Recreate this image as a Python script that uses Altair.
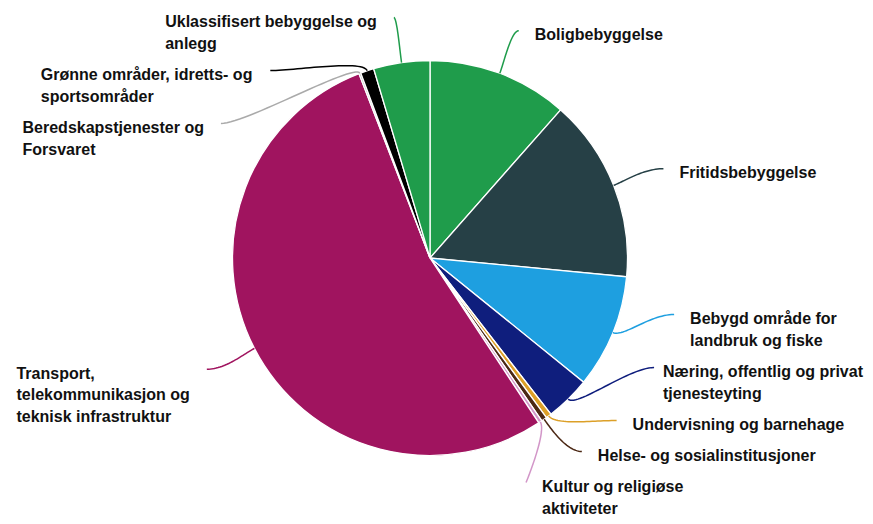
import math
import altair as alt
import pandas as pd

# ---------------- data ----------------
categories = [
    "Boligbebyggelse",
    "Fritidsbebyggelse",
    "Bebygd område for landbruk og fiske",
    "Næring, offentlig og privat tjenesteyting",
    "Undervisning og barnehage",
    "Helse- og sosialinstitusjoner",
    "Kultur og religiøse aktiviteter",
    "Transport, telekommunikasjon og teknisk infrastruktur",
    "Beredskapstjenester og Forsvaret",
    "Grønne områder, idretts- og sportsområder",
    "Uklassifisert bebyggelse og anlegg",
]
values = [11.5, 15.0, 9.3, 3.7, 0.45, 0.45, 0.3, 53.4, 0.15, 1.1, 4.6]
label_lines = [
    ["Boligbebyggelse"],
    ["Fritidsbebyggelse"],
    ["Bebygd område for", "landbruk og fiske"],
    ["Næring, offentlig og privat", "tjenesteyting"],
    ["Undervisning og barnehage"],
    ["Helse- og sosialinstitusjoner"],
    ["Kultur og religiøse", "aktiviteter"],
    ["Transport,", "telekommunikasjon og", "teknisk infrastruktur"],
    ["Beredskapstjenester og", "Forsvaret"],
    ["Grønne områder, idretts- og", "sportsområder"],
    ["Uklassifisert bebyggelse og", "anlegg"],
]
colors = [
    "#1f9c4b", "#264046", "#1e9fe0", "#0f1e7d", "#dca028", "#4b2814",
    "#d296c8", "#a0145f", "#aaaaaa", "#000000", "#1f9c4b",
]

# ---------------- layout parameters ----------------
W, H = 857, 508
CX, CY = 422, 250
R = 197.5
RA, RB = 251.0, 243.0      # label-anchor ellipse (horizontal, vertical semi-axes)
FONT = 16
LINE_H = 21.5
TOP_MIN = 6
LAST_LINE_MAX = 500.5

# Arial/Liberation Sans Bold advance widths (per 1000 em)
AW = {" ": 278, ",": 278, "-": 333, "a": 556, "b": 611, "c": 556, "d": 611, "e": 556,
      "f": 333, "g": 611, "h": 611, "i": 278, "j": 278, "k": 556, "l": 278, "m": 889,
      "n": 611, "o": 611, "p": 611, "q": 611, "r": 389, "s": 556, "t": 333, "u": 611,
      "v": 556, "w": 778, "x": 556, "y": 556, "z": 500, "å": 556, "ø": 611, "æ": 889,
      "U": 722, "G": 778, "B": 722, "F": 611, "T": 611, "H": 722, "K": 722, "N": 722}


def text_w(s):
    return sum(AW.get(ch, 600) for ch in s) * FONT / 1000.0


total = sum(values)
mids = []
acc = 0.0
for v in values:
    mids.append((acc + v / 2) / total * 2 * math.pi)
    acc += v

# initial label end positions and side
items = []
for i, a in enumerate(mids):
    side = 1 if math.sin(a) > 0 else -1
    items.append({"i": i, "a": a, "side": side, "y": CY - RB * math.cos(a),
                  "n": len(label_lines[i])})

# declutter each side vertically
for side in (1, -1):
    grp = sorted([it for it in items if it["side"] == side], key=lambda d: d["y"])
    for _ in range(3):
        prev = None
        for it in grp:
            lo = TOP_MIN if prev is None else prev["y"] + prev["n"] * 22 + 9
            it["y"] = max(it["y"], lo)
            prev = it
        nxt = None
        for it in reversed(grp):
            hi = LAST_LINE_MAX - 4.5 - (it["n"] - 1) * LINE_H
            if nxt is not None:
                hi = min(hi, nxt["y"] - it["n"] * 22 - 9)
            it["y"] = min(it["y"], hi)
            nxt = it

line_rows = []
text_rows = []
for it in items:
    i, a, side = it["i"], it["a"], it["side"]
    ey = it["y"]
    dy = (ey - CY) / RB
    ex = CX + side * RA * math.sqrt(max(1 - dy * dy, 0.0))
    p0 = (CX + R * math.sin(a), CY - R * math.cos(a))
    p1 = (p0[0] + 12 * math.sin(a), p0[1] - 12 * math.cos(a))
    l2 = min(25.0, max(0.0, side * (ex - p0[0])) * 0.4)
    p2 = (ex - side * l2, ey)
    p3 = (ex, ey)
    for k in range(31):
        t = k / 30
        mt = 1 - t
        bx = mt**3 * p0[0] + 3 * mt * mt * t * p1[0] + 3 * mt * t * t * p2[0] + t**3 * p3[0]
        by = mt**3 * p0[1] + 3 * mt * mt * t * p1[1] + 3 * mt * t * t * p2[1] + t**3 * p3[1]
        line_rows.append({"cat": categories[i], "t": k, "px": bx, "py": by})
    lines = label_lines[i]
    wmax = max(text_w(s) for s in lines)
    if side == 1:
        lx = min(ex + 16, W - 2 - wmax)
    else:
        lx = max(ex - 17 - wmax, 2)
    for j, s in enumerate(lines):
        text_rows.append({"txt": s, "tx": lx, "ty": ey + 4.5 + j * LINE_H})

df_slices = pd.DataFrame({"cat": categories, "value": values, "idx": list(range(len(values)))})
df_lines = pd.DataFrame(line_rows)
df_text = pd.DataFrame(text_rows)

color_scale = alt.Scale(domain=categories, range=colors)
xs = alt.Scale(domain=[0, W], nice=False, zero=False)
ys = alt.Scale(domain=[0, H], nice=False, zero=False, reverse=True)

pie = alt.Chart(df_slices).mark_arc(
    outerRadius=R, stroke="white", strokeWidth=1.3
).encode(
    theta=alt.Theta("value:Q", stack=True),
    color=alt.Color("cat:N", scale=color_scale, legend=None),
    order=alt.Order("idx:Q"),
    x=alt.value(CX),
    y=alt.value(CY),
)

connectors = alt.Chart(df_lines).mark_line(strokeWidth=1.5, interpolate="linear").encode(
    x=alt.X("px:Q", scale=xs, axis=None),
    y=alt.Y("py:Q", scale=ys, axis=None),
    color=alt.Color("cat:N", scale=color_scale, legend=None),
    detail="cat:N",
    order=alt.Order("t:Q"),
)

labels = alt.Chart(df_text).mark_text(
    align="left", baseline="middle", font="Liberation Sans", fontSize=FONT,
    fontWeight="bold", color="#111111"
).encode(
    x=alt.X("tx:Q", scale=xs, axis=None),
    y=alt.Y("ty:Q", scale=ys, axis=None),
    text="txt:N",
)

chart = alt.layer(pie, connectors, labels).properties(
    width=W, height=H, padding=0, autosize=alt.AutoSizeParams(type="none"),
    background="white",
).configure_view(stroke=None)

chart.save("out.html", embed_options={"renderer": "svg", "actions": False})
